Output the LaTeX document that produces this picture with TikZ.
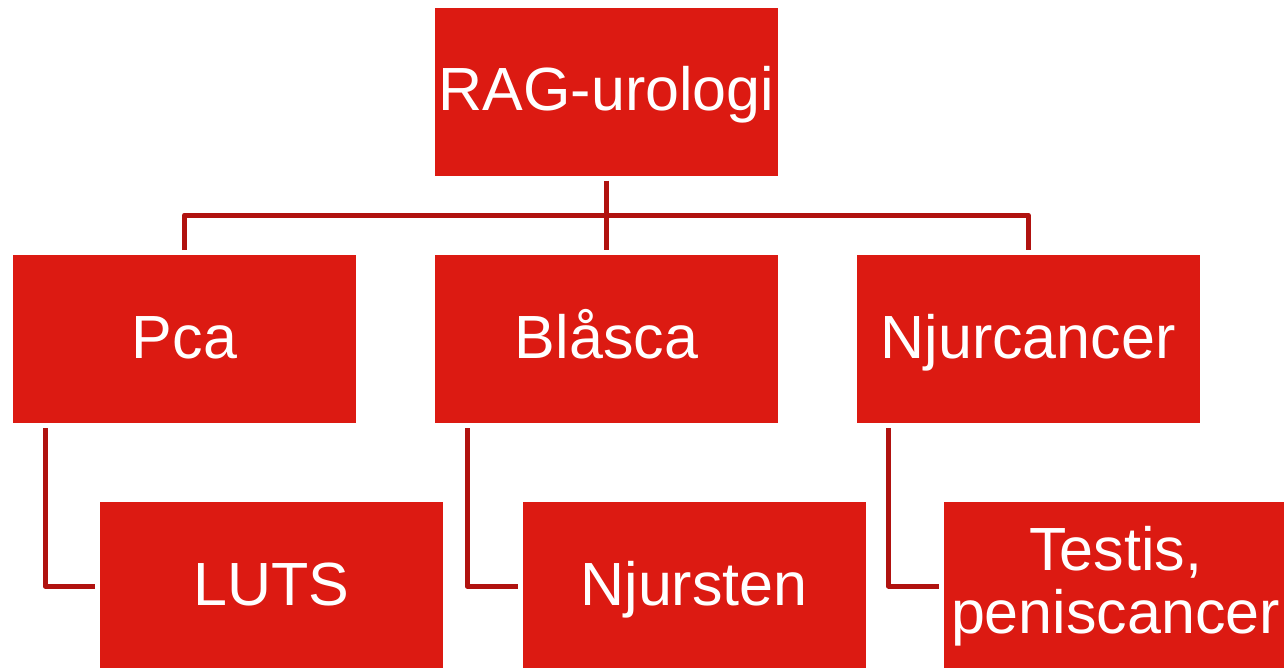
\documentclass[tikz,border=0pt]{standalone}
\usepackage{fontspec}
\setmainfont{Liberation Sans}
\usepackage{tikz}
\usetikzlibrary{positioning}
\definecolor{boxred}{HTML}{DC1A12}
\definecolor{linkred}{HTML}{B0120F}

\begin{document}
\begin{tikzpicture}[x=1pt, y=1pt,
        box/.style={rectangle, fill=boxred, text=white, minimum width=343pt, minimum height=168pt,
                    inner sep=0pt, outer sep=5pt, align=center, font=\fontsize{61}{63}\selectfont},
        oneline/.style={box, text height=50pt, text depth=12pt},
        link/.style={draw=linkred, line width=5pt, line join=round}]
            \useasboundingbox (0,0) rectangle (1284,-667);
            \node[oneline] (rag) at (606.5,-91.5) {RAG-urologi};
            \node[oneline] (pca) at (184.5,-339) {Pca};
            \node[oneline] (blasca) at (606.5,-339) {Blåsca};
            \node[oneline] (njurc) at (1028,-339) {Njurcancer};
            \node[oneline] (luts) at (271.5,-586) {LUTS};
            \node[oneline] (njurs) at (694,-586) {Njursten};
            \node[box] (testis) at (1115.5,-586) {Testis,\\peniscancer};
            \draw[link] (rag.south) -- ++(0,-34.5) coordinate (hub);
            \draw[link] (pca.north) |- (hub) -| (njurc.north);
            \draw[link] (hub) -- (blasca.north);
            \draw[link] (pca.south west) ++(37,0) |- (luts.west);
            \draw[link] (blasca.south west) ++(37,0) |- (njurs.west);
            \draw[link] (njurc.south west) ++(37,0) |- (testis.west);
        \end{tikzpicture}
\end{document}
